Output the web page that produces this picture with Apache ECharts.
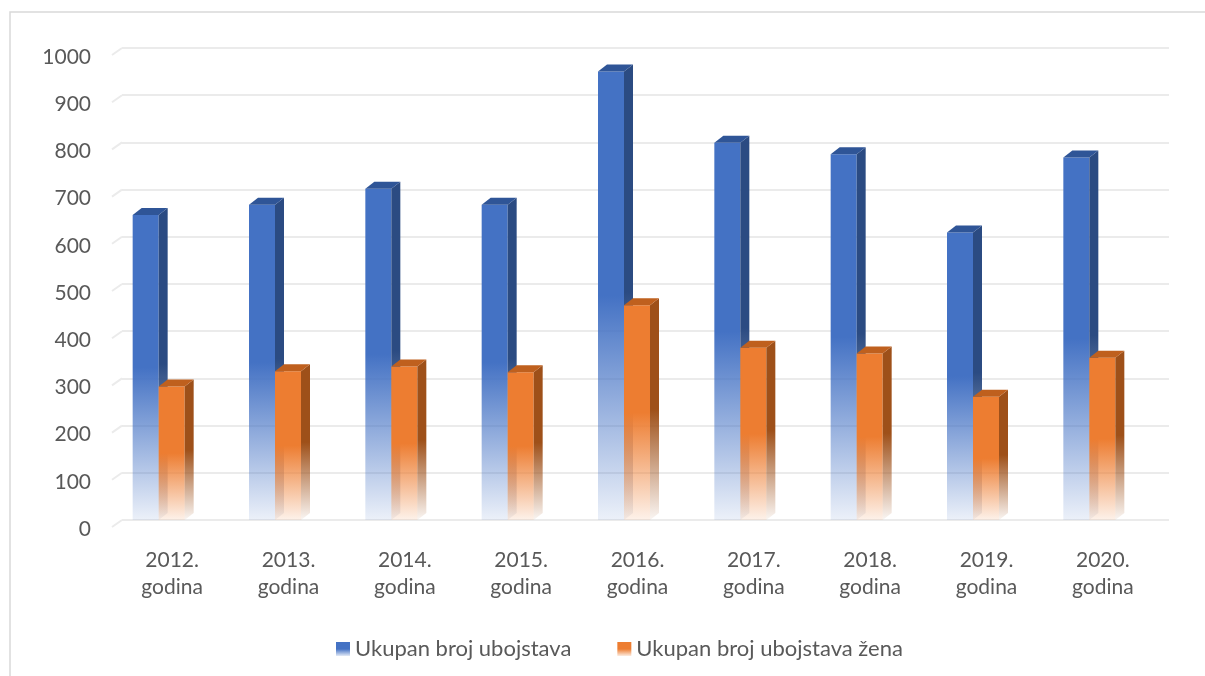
<!DOCTYPE html>
<html>
<head>
<meta charset="utf-8">
<script src="https://cdn.jsdelivr.net/npm/echarts@6/dist/echarts.min.js"></script>
<style>
  html, body { margin: 0; padding: 0; background: #fff; }
  #chart { width: 1205px; height: 676px; }
</style>
</head>
<body>
<div id="chart"></div>
<script>
// podaci
var years = ['2012. godina', '2013. godina', '2014. godina', '2015. godina', '2016. godina',
  '2017. godina', '2018. godina', '2019. godina', '2020. godina'];
var ukupno = [646, 668, 702, 668, 950, 799, 775, 609, 768];
var zene = [283, 315, 325, 313, 455, 365, 353, 261, 344];
var yTicks = [0, 100, 200, 300, 400, 500, 600, 700, 800, 900, 1000];

var seriesNames = ['Ukupan broj ubojstava', 'Ukupan broj ubojstava žena'];
var textColor = '#595959';
var fontFamily = 'Lato, "Open Sans", sans-serif';

function fade(r, g, b, low) {
  return new echarts.graphic.LinearGradient(0, 0, 0, 1, [
    { offset: 0, color: 'rgba(' + r + ',' + g + ',' + b + ',1)' },
    { offset: 0.5, color: 'rgba(' + r + ',' + g + ',' + b + ',1)' },
    { offset: 1, color: 'rgba(' + r + ',' + g + ',' + b + ',' + low + ')' }
  ]);
}

var blue = { front: [68, 114, 196], side: [43, 75, 130], top: [47, 85, 151] };
var orange = { front: [237, 125, 49], side: [158, 80, 25], top: [191, 96, 30] };

// 3D stupac: prednja strana, bok i vrh
function bar3d(offset, pal) {
  return function (params, api) {
    var idx = api.value(0);
    var top = api.coord([idx, api.value(1)]);
    var base = api.coord([idx, 0]);
    var w = 26, dx = 9, dy = 7;
    var x = top[0] + offset, y = top[1], y0 = base[1];
    return {
      type: 'group',
      children: [
        {
          type: 'rect',
          shape: { x: x, y: y, width: w, height: y0 - y },
          style: { fill: fade(pal.front[0], pal.front[1], pal.front[2], 0.1) }
        },
        {
          type: 'polygon',
          shape: { points: [[x + w, y], [x + w + dx, y - dy], [x + w + dx, y0 - dy], [x + w, y0]] },
          style: { fill: fade(pal.side[0], pal.side[1], pal.side[2], 0.05) }
        },
        {
          type: 'polygon',
          shape: { points: [[x, y], [x + dx, y - dy], [x + w + dx, y - dy], [x + w, y]] },
          style: { fill: 'rgb(' + pal.top.join(',') + ')' }
        }
      ]
    };
  };
}

var chart = echarts.init(document.getElementById('chart'));

chart.setOption({
  animation: false,
  backgroundColor: '#fff',
  graphic: [{
    type: 'rect',
    shape: { x: 10, y: 12, width: 1300, height: 800 },
    style: { fill: 'none', stroke: '#d9d9d9', lineWidth: 1.5 },
    silent: true
  }],
  grid: { left: 122, right: 36, top: 48, bottom: 156 },
  legend: {
    left: 331,
    top: 633,
    itemWidth: 14,
    itemHeight: 14,
    itemGap: 46,
    icon: 'rect',
    textStyle: { color: textColor, fontSize: 22, fontFamily: fontFamily },
    data: seriesNames
  },
  xAxis: {
    type: 'category',
    data: years,
    axisLine: { show: false },
    axisTick: { show: false },
    axisLabel: {
      color: textColor,
      fontSize: 21,
      fontFamily: fontFamily,
      lineHeight: 27,
      margin: 27,
      padding: [0, 16, 0, 0],
      formatter: function (v) { return v.replace(' ', '\n'); }
    }
  },
  yAxis: {
    type: 'value',
    min: 0,
    max: 1000,
    interval: 100,
    axisLine: { show: false },
    axisTick: { show: false },
    axisLabel: {
      color: textColor,
      fontSize: 21,
      fontFamily: fontFamily,
      margin: 31,
      verticalAlign: 'top',
      lineHeight: 18,
      formatter: function (v) { return String(v); }
    },
    splitLine: { lineStyle: { color: '#ebebeb', width: 2 } }
  },
  series: [
    {
      type: 'custom',
      name: 'zid',
      silent: true,
      data: yTicks.map(function (t) { return [0, t]; }),
      renderItem: function (params, api) {
        var p = api.coord([0, api.value(1)]);
        var x0 = params.coordSys.x;
        return {
          type: 'line',
          shape: { x1: x0 - 10, y1: p[1] + 7, x2: x0, y2: p[1] },
          style: { stroke: '#ebebeb', lineWidth: 2 }
        };
      }
    },
    {
      type: 'custom',
      name: seriesNames[0],
      itemStyle: { color: fade(68, 114, 196, 0.15) },
      data: ukupno.map(function (v, i) { return [i, v]; }),
      encode: { x: 0, y: 1 },
      renderItem: bar3d(-47.5, blue)
    },
    {
      type: 'custom',
      name: seriesNames[1],
      itemStyle: { color: fade(237, 125, 49, 0.15) },
      data: zene.map(function (v, i) { return [i, v]; }),
      encode: { x: 0, y: 1 },
      renderItem: bar3d(-21.5, orange)
    }
  ]
});
</script>
</body>
</html>
